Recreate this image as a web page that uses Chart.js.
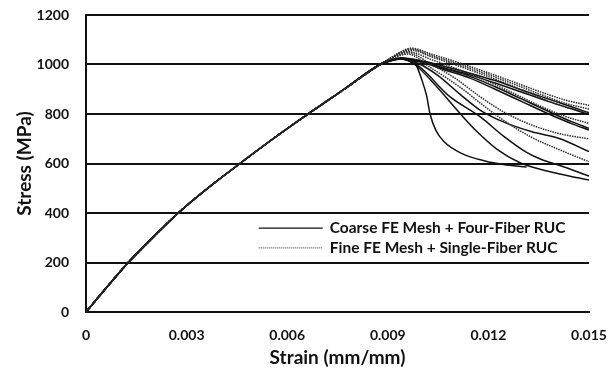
<!DOCTYPE html>
<html>
<head>
<meta charset="utf-8">
<script src="https://cdn.jsdelivr.net/npm/chart.js@4.4.1/dist/chart.umd.min.js"></script>
<style>
  html, body { margin: 0; padding: 0; background: #fff; }
  #wrap { width: 609px; height: 369px; }
</style>
</head>
<body>
<div id="wrap"><canvas id="stressChart" width="609" height="369"></canvas></div>
<script>
// tick labels
const xTicks = [0, 0.003, 0.006, 0.009, 0.012, 0.015];
const yTicks = [0, 200, 400, 600, 800, 1000, 1200];

// shared elastic loading branch [strain, stress]
const loadPath = [[0, 0], [0.0006, 97], [0.00126, 200], [0.002, 302], [0.00275, 400], [0.0036, 497],
  [0.00459, 600], [0.0056, 702], [0.00662, 800], [0.0077, 900], [0.00877, 1000]];

// Coarse FE Mesh + Four-Fiber RUC (solid)
const coarse1 = [[0.0091, 1016], [0.0094, 1024], [0.0097, 1018], [0.00981, 1008], [0.01001, 940], [0.01016, 872],
  [0.01026, 800], [0.01043, 735], [0.01068, 688], [0.0112, 641], [0.0119, 610], [0.01244, 596], [0.01314, 586]];
const coarse2 = [[0.0091, 1015], [0.0094, 1022], [0.0098, 1000], [0.01046, 910], [0.01115, 803], [0.01165, 730],
  [0.01225, 658], [0.01294, 603], [0.0136, 575], [0.01413, 558], [0.015, 533]];
const coarse3 = [[0.0091, 1016], [0.0094, 1022], [0.0099, 995], [0.01085, 870], [0.01175, 789], [0.01244, 712],
  [0.01314, 645], [0.0136, 615], [0.01413, 592], [0.015, 549]];
const coarse4 = [[0.0091, 1017], [0.0094, 1024], [0.0099, 1005], [0.0105, 955], [0.01115, 880], [0.01175, 816],
  [0.0125, 765], [0.0133, 728], [0.01413, 700], [0.015, 648]];
const coarse5 = [[0.0091, 1018], [0.0094, 1025], [0.01, 1010], [0.0107, 978], [0.01145, 945], [0.0122, 900],
  [0.013, 850], [0.0138, 800], [0.0145, 760], [0.015, 735]];
const coarse6 = [[0.0091, 1018], [0.0094, 1026], [0.01, 1012], [0.0107, 984], [0.01145, 952], [0.0122, 910],
  [0.013, 860], [0.0138, 810], [0.0145, 768], [0.015, 742]];
const coarse7 = [[0.0091, 1019], [0.0094, 1026], [0.01, 1015], [0.0107, 992], [0.01145, 965], [0.0122, 935],
  [0.013, 897], [0.0138, 860], [0.0145, 828], [0.015, 805]];
const coarse8 = [[0.0091, 1017], [0.0093, 1022], [0.01, 1010], [0.0107, 985], [0.01145, 958], [0.0122, 925],
  [0.013, 888], [0.0138, 850], [0.0145, 820], [0.015, 798]];

// Fine FE Mesh + Single-Fiber RUC (dotted)
const fine1 = [[0.0091, 1028], [0.0094, 1052], [0.0097, 1066], [0.0103, 1042], [0.01145, 992], [0.0125, 942],
  [0.0135, 892], [0.0143, 856], [0.015, 835]];
const fine2 = [[0.0091, 1027], [0.0094, 1050], [0.0097, 1062], [0.0103, 1036], [0.01145, 985], [0.0125, 934],
  [0.0135, 882], [0.0143, 843], [0.015, 820]];
const fine3 = [[0.0091, 1026], [0.0094, 1048], [0.0097, 1058], [0.0103, 1031], [0.01145, 978], [0.0125, 925],
  [0.0135, 868], [0.0143, 828], [0.015, 805]];
const fine4 = [[0.0091, 1025], [0.0094, 1045], [0.0096, 1052], [0.0103, 1020], [0.01145, 962], [0.0125, 900],
  [0.0135, 835], [0.0143, 790], [0.015, 762]];
const fine5 = [[0.0091, 1024], [0.0094, 1042], [0.0096, 1048], [0.0103, 1000], [0.011, 945], [0.01175, 870],
  [0.0125, 805], [0.0133, 755], [0.0142, 718], [0.015, 700]];
const fine6 = [[0.0091, 1022], [0.0094, 1038], [0.0096, 1042], [0.0103, 985], [0.01125, 899], [0.01175, 845],
  [0.0125, 770], [0.0133, 705], [0.01413, 655], [0.015, 607]];

const coarseRuns = [coarse1, coarse2, coarse3, coarse4, coarse5, coarse6, coarse7, coarse8];
const fineRuns = [fine1, fine2, fine3, fine4, fine5, fine6];

function toPoints(run) {
  return loadPath.concat(run).map(p => ({ x: p[0], y: p[1] }));
}

const datasets = [];
fineRuns.forEach(run => {
  datasets.push({
    label: "Fine FE Mesh + Single-Fiber RUC",
    data: toPoints(run),
    borderColor: "#2a2a2a",
    borderWidth: 1.5,
    borderDash: [1.5, 1],
    pointRadius: 0,
    cubicInterpolationMode: "monotone"
  });
});
coarseRuns.forEach(run => {
  datasets.push({
    label: "Coarse FE Mesh + Four-Fiber RUC",
    data: toPoints(run),
    borderColor: "#111",
    borderWidth: 1.5,
    pointRadius: 0,
    cubicInterpolationMode: "monotone"
  });
});

// legend drawn inside the plot area
const insideLegend = {
  id: "insideLegend",
  afterDraw(chart) {
    const ctx = chart.ctx;
    const x = chart.scales.x;
    const y = chart.scales.y;
    const lx = x.getPixelForValue(0.00515);
    const items = [
      { text: "Coarse FE Mesh + Four-Fiber RUC", dash: [], color: "#111", y: 339 },
      { text: "Fine FE Mesh + Single-Fiber RUC", dash: [1, 1], color: "#555", y: 259 }
    ];
    ctx.save();
    ctx.font = "bold 15.5px Lato";
    ctx.textBaseline = "middle";
    items.forEach(it => {
      const py = y.getPixelForValue(it.y);
      ctx.beginPath();
      ctx.setLineDash(it.dash);
      ctx.strokeStyle = it.color;
      ctx.lineWidth = 1.2;
      ctx.moveTo(lx, py);
      ctx.lineTo(lx + 64, py);
      ctx.stroke();
      ctx.setLineDash([]);
      ctx.fillStyle = "#111";
      ctx.fillText(it.text, lx + 71, py);
    });
    ctx.restore();
  }
};

new Chart(document.getElementById("stressChart"), {
  type: "line",
  data: { datasets: datasets },
  plugins: [insideLegend],
  options: {
    responsive: false,
    devicePixelRatio: 1,
    animation: false,
    layout: { padding: 0 },
    plugins: {
      legend: { display: false },
      tooltip: { enabled: false }
    },
    scales: {
      x: {
        type: "linear",
        min: 0,
        max: 0.015,
        afterBuildTicks: (scale) => { scale.ticks = xTicks.map(v => ({ value: v })); },
        afterFit: (scale) => {
          scale.height = 57;
          scale.paddingLeft = 0;
          scale.paddingRight = 20;
        },
        ticks: {
          color: "#111",
          font: { family: "Lato", size: 14, weight: "bold" },
          padding: 15,
          maxRotation: 0,
          callback: (v) => v === 0 ? "0" : v.toFixed(3)
        },
        grid: { display: false, drawTicks: false },
        border: { display: true, color: "#111", width: 2 },
        title: {
          display: true,
          text: "Strain (mm/mm)",
          color: "#111",
          font: { family: "Lato", size: 19, weight: "bold" },
          padding: { top: 0, bottom: 0 }
        }
      },
      y: {
        min: 0,
        max: 1200,
        afterBuildTicks: (scale) => { scale.ticks = yTicks.map(v => ({ value: v })); },
        afterFit: (scale) => {
          scale.width = 86;
          scale.paddingTop = 15;
          scale.paddingBottom = 0;
        },
        ticks: {
          color: "#111",
          font: { family: "Lato", size: 14, weight: "bold" },
          padding: 17,
          callback: (v) => String(v)
        },
        grid: { color: "#111", lineWidth: 2, drawTicks: false },
        border: { display: true, color: "#111", width: 2 },
        title: {
          display: true,
          text: "Stress (MPa)",
          color: "#111",
          font: { family: "Lato", size: 19, weight: "bold" },
          padding: { top: 13, bottom: 0 }
        }
      }
    }
  }
});
</script>
</body>
</html>
